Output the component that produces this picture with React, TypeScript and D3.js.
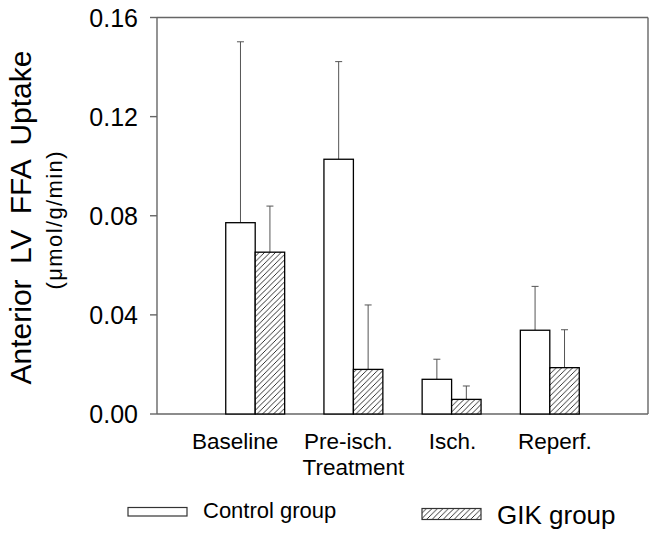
import React from "react";
import * as d3 from "d3";

const categories = ["Baseline", "Pre-isch.", "Isch.", "Reperf."];
const categoryLine2 = ["", "Treatment", "", ""];
const controlMeans = [0.0772, 0.1028, 0.014, 0.0338];
const controlErrors = [0.073, 0.0394, 0.0081, 0.0177];
const gikMeans = [0.0653, 0.018, 0.0059, 0.0187];
const gikErrors = [0.0186, 0.026, 0.0054, 0.0153];
const yTicks = [0, 0.04, 0.08, 0.12, 0.16];
const seriesNames = ["Control group", "GIK group"];

const W = 654;
const H = 535;
const left = 157;
const right = 648;
const top = 17.5;
const bottom = 414;
const font = "'Liberation Sans', Arial, Helvetica, sans-serif";

export default function App() {
  const x = d3
    .scaleBand<string>()
    .domain(categories)
    .range([left, right])
    .paddingInner(0)
    .paddingOuter(0.5);
  const y = d3.scaleLinear().domain([0, 0.16]).range([bottom, top]);
  const sub = d3
    .scaleBand<string>()
    .domain(["control", "gik"])
    .range([-x.bandwidth() * 0.3, x.bandwidth() * 0.3]);
  const bw = sub.bandwidth();
  const fmt = d3.format(".2f");
  const labelDx = [-20, -5, 1, 5];
  const line2Dx = [0, 0, 0, 0];

  const series = [
    { key: "control", means: controlMeans, errs: controlErrors, fill: "#fff" },
    { key: "gik", means: gikMeans, errs: gikErrors, fill: "url(#hatch)" },
  ];

  return (
    <svg
      width={W}
      height={H}
      style={{ position: "absolute", left: 0, top: 0, background: "#fff" }}
      fontFamily={font}
    >
      <defs>
        <pattern id="hatch" patternUnits="userSpaceOnUse" width={5.5} height={5.5}>
          <rect width={5.5} height={5.5} fill="#fff" />
          <path
            d="M0,5.5 L5.5,0 M-1.5,1.5 L1.5,-1.5 M4,7 L7,4"
            stroke="#000"
            strokeWidth={0.8}
          />
        </pattern>
      </defs>

      {/* frame */}
      <g stroke="#666" strokeWidth={1.4} fill="none">
        <line x1={left} x2={right} y1={top} y2={top} />
        <line x1={right} x2={right} y1={top} y2={bottom} />
        <line x1={left} x2={right} y1={bottom} y2={bottom} />
        <line x1={left} x2={left} y1={top} y2={bottom} />
      </g>

      {/* y ticks */}
      {yTicks.map((t) => (
        <g key={t}>
          <line x1={left - 7} x2={left} y1={y(t)} y2={y(t)} stroke="#666" strokeWidth={1.4} />
          <text
            x={left - 19}
            y={y(t)}
            dy="0.36em"
            textAnchor="end"
            fontSize={25}
            fill="#000"
          >
            {fmt(t)}
          </text>
        </g>
      ))}

      {/* bars */}
      {series.map((s) =>
        categories.map((c, i) => {
          const cx = (x(c) as number) + x.bandwidth() / 2;
          const bx = cx + (sub(s.key) as number);
          const yt = y(s.means[i]);
          const ye = y(s.means[i] + s.errs[i]);
          const mx = bx + bw / 2;
          return (
            <g key={s.key + c}>
              <line x1={mx} x2={mx} y1={yt} y2={ye} stroke="#555" strokeWidth={1} />
              <line x1={mx - 3.5} x2={mx + 3.5} y1={ye} y2={ye} stroke="#555" strokeWidth={1} />
              <rect
                x={bx}
                y={yt}
                width={bw}
                height={bottom - yt}
                fill={s.fill}
                stroke="#000"
                strokeWidth={1.3}
              />
            </g>
          );
        })
      )}

      {/* x labels */}
      {categories.map((c, i) => {
        const cx = (x(c) as number) + x.bandwidth() / 2;
        return (
          <g key={c}>
            <text x={cx + labelDx[i]} y={449} textAnchor="middle" fontSize={22.5} fill="#000">
              {c}
            </text>
            {categoryLine2[i] && (
              <text x={cx + line2Dx[i]} y={475} textAnchor="middle" fontSize={22.5} fill="#000">
                {categoryLine2[i]}
              </text>
            )}
          </g>
        );
      })}

      {/* y title */}
      <text
        transform="translate(31,217.5) rotate(-90)"
        textAnchor="middle"
        fontSize={30}
        fill="#000"
        wordSpacing={7}
      >
        Anterior LV FFA Uptake
      </text>
      <text
        transform="translate(62,220.5) rotate(-90)"
        textAnchor="middle"
        fontSize={22}
        fill="#000"
        textLength={138}
        lengthAdjust="spacing"
      >
        (μmol/g/min)
      </text>

      {/* legend */}
      <rect x={128} y={507.5} width={59} height={8.5} fill="#fff" stroke="#333" strokeWidth={1.2} />
      <text x={203} y={518} fontSize={22} fill="#000">
        {seriesNames[0]}
      </text>
      <rect x={422} y={508.5} width={59} height={11} fill="url(#hatch)" stroke="#333" strokeWidth={1.2} />
      <text x={497} y={524} fontSize={26} fill="#000">
        {seriesNames[1]}
      </text>
    </svg>
  );
}
